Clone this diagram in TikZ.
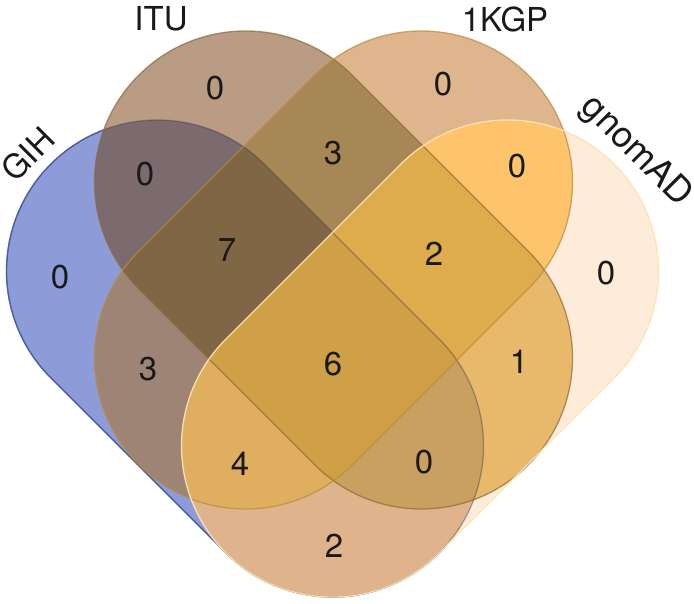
\documentclass[tikz,border=0pt]{standalone}
\usepackage{fontspec}
\setmainfont{TeX Gyre Heros}
\definecolor{cG}{HTML}{8D9CD8}
\definecolor{cI}{HTML}{B99C83}
\definecolor{cK}{HTML}{DFB58E}
\definecolor{cA}{HTML}{FDECD9}
\definecolor{cGI}{HTML}{7B6B6E}
\definecolor{cGK}{HTML}{9E8475}
\definecolor{cGA}{HTML}{DFB48C}
\definecolor{cIK}{HTML}{A88756}
\definecolor{cIA}{HTML}{E9B96B}
\definecolor{cKA}{HTML}{FDC46C}
\definecolor{cGIK}{HTML}{7F6645}
\definecolor{cGIA}{HTML}{C9A060}
\definecolor{cGKA}{HTML}{DFAF5F}
\definecolor{cIKA}{HTML}{DEAC4C}
\definecolor{cGIKA}{HTML}{CFA045}
\definecolor{lG}{HTML}{3A58A2}
\definecolor{lGin}{HTML}{3C3748}
\definecolor{lI}{HTML}{8C6A3C}
\definecolor{lK}{HTML}{B88A3C}
\definecolor{lA}{HTML}{FDE3B0}
\def\pG{([shift={(45:151)}]157.5,-271) -- ++(175,-175) arc[start angle=45,end angle=-135,radius=151] -- ++(-175,175) arc[start angle=225,end angle=45,radius=151] -- cycle}
\def\pI{([shift={(45:151)}]245.5,-182) -- ++(176,-176) arc[start angle=45,end angle=-135,radius=151] -- ++(-176,176) arc[start angle=225,end angle=45,radius=151] -- cycle}
\def\pK{([shift={(135:151)}]421.5,-182) -- ++(-176,-176) arc[start angle=135,end angle=315,radius=151] -- ++(176,176) arc[start angle=-45,end angle=135,radius=151] -- cycle}
\def\pA{([shift={(135:151)}]507.5,-271) -- ++(-175,-175) arc[start angle=135,end angle=315,radius=151] -- ++(175,175) arc[start angle=-45,end angle=135,radius=151] -- cycle}
\def\bigbox{(-20,20) rectangle (714,-624)}
\tikzset{
  num/.style={font=\fontsize{33}{36}\selectfont, text=black!90, inner sep=0pt},
  setlabel/.style={font=\fontsize{33}{36}\selectfont, text=black!90, inner sep=0pt},
  outline/.style={line width=1.3pt, opacity=0.7}
}
\begin{document}
\begin{tikzpicture}[x=1pt,y=1pt]
\useasboundingbox (0,0) rectangle (694,-604);
% single sets
\fill[cG] \pG;
\fill[cI] \pI;
\fill[cK] \pK;
\fill[cA] \pA;
% pairs
\begin{scope}\clip \pG; \fill[cGI] \pI; \end{scope}
\begin{scope}\clip \pG; \fill[cGK] \pK; \end{scope}
\begin{scope}\clip \pG; \fill[cGA] \pA; \end{scope}
\begin{scope}\clip \pI; \fill[cIK] \pK; \end{scope}
\begin{scope}\clip \pI; \fill[cIA] \pA; \end{scope}
\begin{scope}\clip \pK; \fill[cKA] \pA; \end{scope}
% triples
\begin{scope}\clip \pG; \clip \pI; \fill[cGIK] \pK; \end{scope}
\begin{scope}\clip \pG; \clip \pI; \fill[cGIA] \pA; \end{scope}
\begin{scope}\clip \pG; \clip \pK; \fill[cGKA] \pA; \end{scope}
\begin{scope}\clip \pI; \clip \pK; \fill[cIKA] \pA; \end{scope}
% all four
\begin{scope}\clip \pG; \clip \pI; \clip \pK; \fill[cGIKA] \pA; \end{scope}
% outlines
\draw[line width=1.3pt, lGin, opacity=0.4] \pG;
\begin{scope}[even odd rule]
  \clip \bigbox \pI;
  \clip \bigbox \pK;
  \clip \bigbox \pA;
  \draw[outline, lG, opacity=0.85, nonzero rule] \pG;
\end{scope}
\draw[outline, lI] \pI;
\draw[outline, lK] \pK;
\draw[outline, lA, opacity=0.95] \pA;
% set labels
\node[setlabel] (tITU) at (161,-19) {ITU};
\node[setlabel] (tKGP) at (505,-19) {1KGP};
\node[setlabel, rotate=45] (tGIH) at (28,-154) {GIH};
\node[setlabel, font=\fontsize{36}{40}\selectfont, rotate=-45] (tGNO) at (636,-152) {gnomAD};
% counts
\node[num] (nG) at (60,-277) {0};
\node[num] (nI) at (215,-88) {0};
\node[num] (nK) at (443,-84) {0};
\node[num] (nA) at (606,-273) {0};
\node[num] (nGI) at (145,-174) {0};
\node[num] (nIK) at (333,-153) {3};
\node[num] (nKA) at (517,-166) {0};
\node[num] (nGIK) at (227,-250) {7};
\node[num] (nIKA) at (434,-254) {2};
\node[num] (nGK) at (148,-369) {3};
\node[num] (nGIKA) at (333,-364) {6};
\node[num] (nIA) at (519,-362) {1};
\node[num] (nGKA) at (240,-464) {4};
\node[num] (nGIA) at (424,-462) {0};
\node[num] (nGA) at (334,-546) {2};
\end{tikzpicture}
\end{document}
